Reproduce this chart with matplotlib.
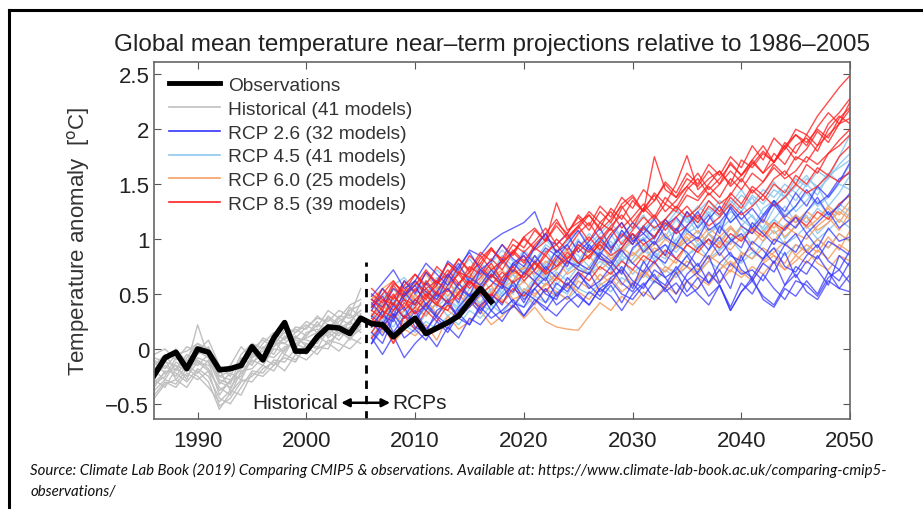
import matplotlib.pyplot as plt
import numpy as np

plt.rcParams['font.family'] = ['Liberation Sans', 'DejaVu Sans']

# observed global mean temperature anomaly, 1986-2017
obs_years = list(range(1986, 2018))
obs = [-0.24, -0.08, -0.03, -0.18, 0.0, -0.03, -0.19, -0.18, -0.15, 0.02,
       -0.10, 0.10, 0.24, -0.02, -0.02, 0.11, 0.20, 0.19, 0.14, 0.28,
       0.23, 0.22, 0.11, 0.20, 0.28, 0.14, 0.19, 0.24, 0.30, 0.43,
       0.55, 0.43]

# historical model runs, 1986-2005
hist_years = list(range(1986, 2006))
historical = [
    [-0.30, -0.22, -0.15, -0.20, -0.10, -0.18, -0.38, -0.30, -0.18, -0.12, -0.05, -0.08, 0.02, 0.05, 0.00, 0.10, 0.15, 0.08, 0.20, 0.25],
    [-0.10, -0.18, -0.05, -0.02, 0.05, -0.05, -0.25, -0.20, -0.10, 0.00, 0.08, 0.02, 0.10, 0.18, 0.12, 0.22, 0.18, 0.30, 0.28, 0.35],
    [-0.42, -0.30, -0.35, -0.22, -0.28, -0.20, -0.52, -0.45, -0.30, -0.25, -0.15, -0.20, -0.05, -0.10, 0.02, -0.05, 0.08, 0.05, 0.00, 0.10],
    [-0.05, 0.00, -0.10, 0.02, -0.02, 0.08, -0.15, -0.25, -0.05, 0.05, 0.00, 0.12, 0.20, 0.15, 0.25, 0.20, 0.35, 0.28, 0.40, 0.45],
    [-0.25, -0.15, -0.25, -0.10, -0.15, -0.05, -0.30, -0.35, -0.22, -0.10, -0.15, 0.00, -0.02, 0.10, 0.08, 0.05, 0.22, 0.20, 0.15, 0.30],
    [-0.20, -0.28, -0.12, -0.18, -0.08, -0.12, -0.42, -0.28, -0.25, -0.05, -0.10, 0.05, 0.05, 0.00, 0.15, 0.18, 0.12, 0.25, 0.32, 0.20],
    [-0.35, -0.20, -0.22, -0.30, -0.18, -0.25, -0.45, -0.50, -0.35, -0.20, -0.22, -0.10, -0.12, 0.00, -0.05, 0.12, 0.05, 0.15, 0.10, 0.18],
    [-0.15, -0.05, -0.20, -0.08, 0.05, 0.00, -0.20, -0.18, -0.15, -0.05, 0.10, 0.05, 0.15, 0.10, 0.20, 0.28, 0.25, 0.35, 0.30, 0.55],
    [-0.28, -0.35, -0.18, -0.25, -0.12, -0.20, -0.35, -0.42, -0.20, -0.18, -0.08, -0.15, 0.00, 0.08, 0.05, 0.00, 0.18, 0.12, 0.25, 0.15],
    [-0.08, -0.12, 0.00, -0.12, -0.05, 0.02, -0.22, -0.15, 0.02, -0.08, 0.05, 0.15, 0.08, 0.20, 0.18, 0.30, 0.22, 0.20, 0.35, 0.40],
    [-0.45, -0.32, -0.28, -0.35, -0.20, -0.30, -0.55, -0.40, -0.28, -0.30, -0.18, -0.12, -0.20, -0.05, -0.10, 0.00, 0.05, -0.02, 0.10, 0.05],
    [-0.18, -0.10, -0.28, -0.15, 0.22, -0.08, -0.28, -0.32, -0.08, -0.15, 0.02, -0.05, 0.12, 0.05, 0.10, 0.15, 0.30, 0.22, 0.18, 0.32],
    [-0.32, -0.25, -0.08, -0.15, -0.22, -0.10, -0.32, -0.22, -0.28, -0.08, -0.02, 0.08, -0.05, 0.12, 0.02, 0.08, 0.15, 0.28, 0.22, 0.42],
    [-0.12, -0.22, -0.18, -0.05, -0.12, -0.15, -0.18, -0.38, -0.12, 0.02, -0.08, 0.10, 0.05, 0.15, 0.22, 0.15, 0.28, 0.20, 0.38, 0.28],
    [-0.38, -0.28, -0.32, -0.18, -0.25, -0.35, -0.48, -0.38, -0.42, -0.22, -0.25, -0.15, -0.08, -0.12, 0.05, 0.02, 0.00, 0.18, 0.08, 0.22],
    [-0.22, -0.12, -0.15, -0.28, -0.02, -0.08, -0.25, -0.28, -0.18, -0.02, -0.12, 0.02, 0.18, 0.02, 0.12, 0.25, 0.10, 0.18, 0.25, 0.35],
]

# scenario runs, 2006-2050
rcp_years = list(range(2006, 2051))

rcp26 = [
    [0.35, 0.55, 0.40, 0.62, 0.50, 0.70, 0.58, 0.80, 0.72, 0.90, 0.85, 0.98, 1.05, 1.10, 1.15,
     1.25, 1.00, 0.95, 1.05, 0.88, 0.98, 1.10, 0.92, 1.02, 1.15, 1.05, 0.95, 1.12, 1.20, 1.08,
     1.00, 1.18, 1.30, 1.15, 1.25, 1.10, 1.22, 1.35, 1.20, 1.30, 1.45, 1.32, 1.40, 1.55, 1.60],
    [0.10, -0.05, 0.12, -0.08, 0.05, 0.15, 0.02, 0.20, 0.10, 0.28, 0.22, 0.35, 0.25, 0.40, 0.30,
     0.45, 0.38, 0.30, 0.42, 0.50, 0.40, 0.55, 0.48, 0.35, 0.50, 0.60, 0.45, 0.55, 0.42, 0.62,
     0.50, 0.40, 0.58, 0.35, 0.52, 0.65, 0.45, 0.38, 0.55, 0.48, 0.62, 0.50, 0.70, 0.55, 0.52],
    [0.30, 0.22, 0.40, 0.28, 0.45, 0.35, 0.50, 0.42, 0.60, 0.48, 0.55, 0.68, 0.58, 0.52, 0.70,
     0.62, 0.75, 0.65, 0.80, 0.72, 0.68, 0.85, 0.75, 0.90, 0.78, 0.70, 0.88, 0.95, 0.82, 0.75,
     0.92, 1.00, 0.85, 0.98, 1.05, 0.90, 0.82, 1.00, 0.95, 0.88, 1.05, 0.92, 1.10, 0.98, 1.02],
    [0.20, 0.35, 0.15, 0.30, 0.25, 0.40, 0.28, 0.18, 0.35, 0.45, 0.32, 0.50, 0.40, 0.62, 0.45,
     0.55, 0.42, 0.60, 0.52, 0.68, 0.58, 0.48, 0.65, 0.72, 0.55, 0.80, 0.65, 0.58, 0.75, 0.62,
     0.70, 0.85, 0.60, 0.78, 0.68, 0.72, 0.62, 0.80, 0.58, 0.75, 0.68, 0.85, 0.70, 0.62, 0.80],
    [0.45, 0.38, 0.55, 0.48, 0.62, 0.52, 0.45, 0.65, 0.78, 0.60, 0.72, 0.65, 0.82, 0.70, 0.88,
     0.78, 0.92, 0.85, 0.75, 0.98, 0.90, 1.02, 0.88, 1.08, 0.95, 1.12, 1.00, 1.18, 1.05, 1.25,
     1.10, 1.22, 1.05, 1.30, 1.18, 1.28, 1.15, 1.35, 1.25, 1.42, 1.30, 1.48, 1.38, 1.52, 1.70],
    [0.05, 0.25, 0.12, 0.20, 0.35, 0.18, 0.30, 0.45, 0.28, 0.38, 0.50, 0.35, 0.48, 0.58, 0.42,
     0.62, 0.50, 0.45, 0.65, 0.55, 0.70, 0.52, 0.60, 0.75, 0.62, 0.55, 0.72, 0.65, 0.50, 0.68,
     0.78, 0.60, 0.72, 0.55, 0.85, 0.62, 0.78, 0.70, 0.88, 0.65, 0.80, 0.72, 0.58, 0.85, 0.75],
    [0.38, 0.48, 0.30, 0.52, 0.40, 0.60, 0.48, 0.55, 0.42, 0.65, 0.58, 0.72, 0.60, 0.78, 0.68,
     0.85, 0.72, 0.90, 0.80, 0.75, 0.95, 0.82, 0.78, 0.92, 1.05, 0.88, 0.98, 0.85, 1.10, 0.95,
     1.02, 0.90, 1.12, 1.00, 0.92, 1.15, 1.05, 0.95, 1.10, 1.20, 1.05, 1.15, 1.25, 1.10, 1.18],
    [0.15, 0.05, 0.28, 0.10, 0.18, 0.08, 0.25, 0.15, 0.32, 0.22, 0.38, 0.28, 0.35, 0.45, 0.30,
     0.42, 0.55, 0.40, 0.48, 0.38, 0.52, 0.45, 0.58, 0.42, 0.60, 0.48, 0.62, 0.55, 0.70, 0.52,
     0.65, 0.48, 0.58, 0.38, 0.60, 0.50, 0.68, 0.55, 0.45, 0.62, 0.58, 0.48, 0.65, 0.72, 0.60],
    [0.42, 0.30, 0.25, 0.48, 0.58, 0.40, 0.52, 0.68, 0.55, 0.48, 0.72, 0.62, 0.55, 0.78, 0.85,
     0.70, 0.62, 0.82, 0.95, 0.78, 0.72, 0.88, 0.80, 0.68, 0.92, 1.00, 0.85, 0.78, 0.95, 0.88,
     0.75, 0.90, 1.02, 0.85, 0.80, 0.98, 0.90, 0.78, 0.95, 1.05, 0.88, 0.82, 0.98, 0.92, 0.85],
    [0.25, 0.12, 0.30, 0.38, 0.20, 0.15, 0.35, 0.42, 0.28, 0.22, 0.40, 0.48, 0.32, 0.38, 0.52,
     0.45, 0.35, 0.50, 0.60, 0.48, 0.40, 0.55, 0.62, 0.50, 0.45, 0.58, 0.68, 0.52, 0.60, 0.48,
     0.55, 0.70, 0.58, 0.35, 0.52, 0.62, 0.48, 0.40, 0.58, 0.68, 0.52, 0.45, 0.62, 0.55, 0.68],
    [0.48, 0.60, 0.72, 0.55, 0.62, 0.78, 0.68, 0.58, 0.75, 0.88, 0.72, 0.80, 0.95, 0.82, 0.75,
     0.92, 1.05, 0.88, 0.95, 1.08, 0.92, 0.85, 1.02, 1.15, 0.98, 1.05, 1.18, 1.02, 0.95, 1.12,
     1.25, 1.08, 1.15, 1.28, 1.12, 1.05, 1.20, 1.32, 1.18, 1.10, 1.25, 1.38, 1.22, 1.30, 1.42],
    [0.05, 0.20, 0.32, 0.18, 0.28, 0.42, 0.30, 0.22, 0.38, 0.50, 0.35, 0.45, 0.58, 0.42, 0.38,
     0.55, 0.65, 0.48, 0.58, 0.70, 0.55, 0.62, 0.75, 0.60, 0.52, 0.68, 0.80, 0.65, 0.72, 0.85,
     0.68, 0.60, 0.78, 0.88, 0.72, 0.65, 0.82, 0.92, 0.75, 0.70, 0.85, 0.95, 0.80, 0.72, 0.90],
]

rcp45 = [
    [0.30, 0.42, 0.35, 0.50, 0.40, 0.55, 0.45, 0.62, 0.50, 0.68, 0.58, 0.72, 0.65, 0.78, 0.70,
     0.85, 0.75, 0.90, 0.82, 0.95, 0.88, 1.00, 0.92, 1.08, 0.98, 1.12, 1.02, 1.15, 1.08, 1.22,
     1.15, 1.28, 1.20, 1.35, 1.25, 1.40, 1.32, 1.45, 1.38, 1.55, 1.48, 1.62, 1.55, 1.75, 1.95],
    [0.15, 0.28, 0.20, 0.35, 0.25, 0.38, 0.30, 0.45, 0.35, 0.50, 0.42, 0.55, 0.48, 0.60, 0.52,
     0.65, 0.58, 0.70, 0.62, 0.75, 0.68, 0.80, 0.72, 0.85, 0.78, 0.90, 0.82, 0.95, 0.88, 1.00,
     0.92, 1.05, 0.98, 1.10, 1.02, 1.12, 1.05, 1.18, 1.10, 1.22, 1.15, 1.28, 1.20, 1.32, 1.25],
    [0.45, 0.35, 0.55, 0.42, 0.60, 0.50, 0.65, 0.55, 0.72, 0.62, 0.78, 0.68, 0.85, 0.75, 0.90,
     0.80, 0.95, 0.88, 1.00, 0.92, 1.05, 0.95, 1.10, 1.02, 1.15, 1.08, 1.20, 1.12, 1.25, 1.18,
     1.30, 1.22, 1.35, 1.28, 1.40, 1.32, 1.45, 1.38, 1.50, 1.42, 1.55, 1.48, 1.60, 1.52, 1.68],
    [0.05, 0.18, 0.10, 0.22, 0.15, 0.25, 0.18, 0.30, 0.22, 0.35, 0.28, 0.40, 0.32, 0.45, 0.38,
     0.48, 0.42, 0.52, 0.45, 0.55, 0.50, 0.60, 0.52, 0.65, 0.58, 0.68, 0.60, 0.72, 0.65, 0.75,
     0.70, 0.80, 0.72, 0.85, 0.78, 0.88, 0.82, 0.92, 0.85, 0.95, 0.90, 1.00, 0.92, 1.05, 0.98],
    [0.25, 0.20, 0.38, 0.48, 0.32, 0.40, 0.58, 0.45, 0.38, 0.55, 0.68, 0.52, 0.60, 0.75, 0.82,
     0.65, 0.78, 0.88, 0.72, 0.80, 0.95, 0.85, 0.78, 0.98, 1.05, 0.90, 1.02, 1.15, 0.95, 1.08,
     1.20, 1.05, 1.12, 1.25, 1.18, 1.10, 1.28, 1.35, 1.22, 1.30, 1.42, 1.30, 1.38, 1.50, 1.45],
    [0.38, 0.50, 0.42, 0.30, 0.48, 0.62, 0.50, 0.42, 0.58, 0.70, 0.55, 0.65, 0.80, 0.68, 0.60,
     0.78, 0.90, 0.75, 0.85, 1.00, 0.82, 0.92, 1.05, 0.88, 0.98, 1.10, 0.95, 1.02, 1.18, 1.05,
     1.12, 1.25, 1.08, 1.18, 1.32, 1.20, 1.10, 1.28, 1.40, 1.25, 1.35, 1.48, 1.30, 1.42, 1.58],
    [0.20, 0.32, 0.45, 0.28, 0.38, 0.30, 0.42, 0.55, 0.40, 0.48, 0.60, 0.45, 0.55, 0.68, 0.50,
     0.62, 0.72, 0.58, 0.70, 0.80, 0.68, 0.75, 0.88, 0.72, 0.82, 0.95, 0.80, 0.88, 1.00, 0.85,
     0.92, 1.05, 0.90, 0.98, 1.10, 0.95, 1.08, 1.18, 1.00, 1.12, 1.22, 1.05, 1.15, 1.28, 1.20],
    [0.32, 0.25, 0.40, 0.55, 0.45, 0.35, 0.52, 0.62, 0.48, 0.58, 0.70, 0.62, 0.50, 0.72, 0.65,
     0.80, 0.68, 0.78, 0.92, 0.85, 0.75, 0.90, 0.98, 0.85, 1.05, 0.98, 1.12, 1.00, 1.08, 1.20,
     1.05, 1.18, 1.30, 1.15, 1.25, 1.38, 1.22, 1.32, 1.45, 1.35, 1.50, 1.40, 1.58, 1.65, 1.72],
    [0.28, 0.40, 0.30, 0.22, 0.42, 0.52, 0.38, 0.48, 0.60, 0.45, 0.55, 0.68, 0.58, 0.50, 0.70,
     0.78, 0.65, 0.72, 0.85, 0.75, 0.68, 0.88, 0.95, 0.80, 0.90, 1.02, 0.88, 0.82, 1.00, 1.10,
     0.95, 1.05, 1.15, 1.00, 1.12, 1.22, 1.08, 1.18, 1.30, 1.15, 1.25, 1.35, 1.22, 1.32, 1.40],
    [0.50, 0.40, 0.58, 0.65, 0.52, 0.60, 0.72, 0.62, 0.70, 0.82, 0.68, 0.78, 0.90, 0.80, 0.72,
     0.92, 1.00, 0.88, 0.98, 1.08, 0.95, 1.05, 1.15, 1.02, 1.10, 1.22, 1.08, 1.18, 1.28, 1.15,
     1.25, 1.35, 1.22, 1.32, 1.45, 1.30, 1.40, 1.52, 1.38, 1.48, 1.58, 1.45, 1.55, 1.68, 1.78],
    [0.12, 0.22, 0.35, 0.25, 0.18, 0.32, 0.42, 0.30, 0.38, 0.50, 0.40, 0.35, 0.52, 0.60, 0.48,
     0.55, 0.68, 0.55, 0.50, 0.65, 0.75, 0.62, 0.70, 0.82, 0.68, 0.78, 0.88, 0.75, 0.70, 0.85,
     0.95, 0.82, 0.90, 1.00, 0.88, 0.82, 0.98, 1.08, 0.95, 1.02, 1.12, 1.00, 1.08, 1.18, 1.10],
]

rcp60 = [
    [0.10, 0.25, 0.05, 0.18, 0.12, 0.22, 0.08, 0.30, 0.18, 0.25, 0.35, 0.22, 0.30, 0.40, 0.28,
     0.38, 0.25, 0.20, 0.18, 0.17, 0.30, 0.42, 0.35, 0.48, 0.40, 0.52, 0.45, 0.58, 0.50, 0.62,
     0.55, 0.68, 0.60, 0.72, 0.65, 0.75, 0.68, 0.80, 0.72, 0.85, 0.78, 0.90, 0.82, 0.95, 0.88],
    [0.35, 0.48, 0.40, 0.55, 0.42, 0.50, 0.62, 0.48, 0.58, 0.70, 0.55, 0.65, 0.72, 0.60, 0.75,
     0.68, 0.80, 0.72, 0.85, 0.78, 0.90, 0.82, 0.75, 0.92, 0.85, 0.95, 0.88, 1.00, 0.92, 1.05,
     0.98, 1.10, 1.02, 0.95, 1.12, 1.05, 1.18, 1.10, 1.22, 1.15, 1.25, 1.18, 1.30, 1.22, 1.35],
    [0.25, 0.15, 0.32, 0.22, 0.38, 0.30, 0.42, 0.35, 0.28, 0.45, 0.40, 0.52, 0.45, 0.38, 0.55,
     0.48, 0.60, 0.52, 0.45, 0.62, 0.55, 0.68, 0.60, 0.72, 0.58, 0.70, 0.62, 0.75, 0.68, 0.80,
     0.72, 0.85, 0.78, 0.70, 0.88, 0.82, 0.92, 0.85, 0.78, 0.95, 0.88, 1.00, 0.92, 1.05, 0.98],
    [0.48, 0.38, 0.55, 0.45, 0.60, 0.52, 0.45, 0.65, 0.55, 0.50, 0.62, 0.75, 0.58, 0.70, 0.65,
     0.78, 0.70, 0.62, 0.80, 0.72, 0.68, 0.85, 0.78, 0.70, 0.88, 0.80, 0.92, 0.85, 0.78, 0.95,
     0.88, 0.82, 0.98, 0.90, 1.02, 0.95, 1.08, 0.98, 1.12, 1.05, 1.00, 1.12, 1.20, 1.08, 1.25],
    [0.20, 0.30, 0.42, 0.28, 0.35, 0.45, 0.32, 0.40, 0.50, 0.38, 0.48, 0.58, 0.42, 0.52, 0.62,
     0.50, 0.58, 0.68, 0.55, 0.65, 0.75, 0.62, 0.70, 0.58, 0.72, 0.65, 0.78, 0.70, 0.82, 0.75,
     0.68, 0.80, 0.88, 0.75, 0.85, 0.92, 0.80, 0.88, 0.98, 0.85, 0.95, 0.88, 1.02, 0.90, 1.08],
    [0.40, 0.30, 0.48, 0.58, 0.45, 0.38, 0.55, 0.62, 0.48, 0.42, 0.58, 0.68, 0.55, 0.62, 0.75,
     0.60, 0.70, 0.82, 0.68, 0.75, 0.85, 0.72, 0.80, 0.90, 0.78, 0.88, 0.98, 0.85, 0.92, 1.02,
     0.90, 1.05, 0.95, 1.10, 1.00, 1.08, 0.98, 1.15, 1.02, 1.12, 1.20, 1.08, 1.15, 1.25, 1.18],
    [0.30, 0.40, 0.28, 0.35, 0.50, 0.38, 0.30, 0.45, 0.55, 0.42, 0.35, 0.52, 0.60, 0.45, 0.50,
     0.40, 0.55, 0.48, 0.60, 0.52, 0.45, 0.58, 0.65, 0.52, 0.60, 0.72, 0.62, 0.55, 0.68, 0.75,
     0.65, 0.58, 0.72, 0.80, 0.70, 0.62, 0.78, 0.85, 0.72, 0.80, 0.90, 0.78, 0.72, 0.85, 0.80],
    [0.45, 0.55, 0.62, 0.50, 0.58, 0.68, 0.55, 0.62, 0.75, 0.65, 0.58, 0.72, 0.80, 0.68, 0.75,
     0.85, 0.72, 0.80, 0.90, 0.78, 0.85, 0.95, 0.82, 0.90, 1.00, 0.88, 0.95, 1.05, 0.92, 0.98,
     1.08, 0.95, 1.02, 1.12, 1.00, 1.08, 1.18, 1.05, 1.12, 1.22, 1.10, 1.18, 1.28, 1.15, 1.30],
]

rcp85 = [
    [0.40, 0.55, 0.45, 0.62, 0.52, 0.70, 0.60, 0.78, 0.68, 0.85, 0.75, 0.90, 0.82, 1.00, 0.92,
     1.08, 0.98, 1.15, 1.05, 1.22, 1.12, 1.30, 1.20, 1.38, 1.28, 1.45, 1.35, 1.52, 1.42, 1.60,
     1.50, 1.68, 1.58, 1.75, 1.65, 1.85, 1.72, 1.92, 1.82, 2.00, 1.95, 2.12, 2.25, 2.38, 2.49],
    [0.30, 0.45, 0.35, 0.50, 0.62, 0.48, 0.58, 0.72, 0.60, 0.70, 0.85, 0.72, 0.80, 0.95, 0.88,
     0.98, 1.10, 0.95, 1.05, 1.20, 1.08, 1.25, 1.15, 1.32, 1.40, 1.25, 1.75, 1.45, 1.38, 1.55,
     1.48, 1.62, 1.50, 1.70, 1.58, 1.68, 1.80, 1.70, 1.88, 1.78, 1.95, 1.85, 2.05, 2.15, 2.28],
    [0.50, 0.42, 0.60, 0.52, 0.68, 0.58, 0.75, 0.65, 0.82, 0.72, 0.88, 0.80, 0.95, 0.85, 1.02,
     1.10, 0.98, 1.33, 1.08, 1.15, 1.22, 1.10, 1.28, 1.18, 1.35, 1.25, 1.42, 1.32, 1.50, 1.76,
     1.45, 1.55, 1.62, 1.50, 1.72, 1.65, 1.78, 1.70, 1.85, 1.95, 1.88, 2.00, 1.92, 2.10, 2.20],
    [0.20, 0.35, 0.28, 0.42, 0.32, 0.48, 0.40, 0.55, 0.45, 0.62, 0.52, 0.68, 0.58, 0.72, 0.65,
     0.80, 0.70, 0.85, 0.78, 0.92, 0.82, 0.98, 0.90, 1.05, 0.95, 1.10, 1.02, 1.18, 1.08, 1.25,
     1.15, 1.30, 1.22, 1.38, 1.28, 1.45, 1.35, 1.50, 1.42, 1.58, 1.50, 1.65, 1.58, 1.75, 1.85],
    [0.10, 0.22, 0.05, 0.30, 0.18, 0.35, 0.25, 0.40, 0.30, 0.45, 0.38, 0.50, 0.42, 0.55, 0.48,
     0.60, 0.52, 0.65, 0.58, 0.70, 0.62, 0.75, 0.68, 0.80, 0.72, 0.85, 0.78, 0.90, 0.82, 0.95,
     0.88, 1.00, 0.92, 1.05, 0.98, 1.10, 1.02, 1.15, 1.08, 1.20, 1.12, 1.25, 1.18, 1.32, 1.40],
    [0.35, 0.28, 0.48, 0.38, 0.55, 0.45, 0.62, 0.52, 0.70, 0.58, 0.75, 0.65, 0.78, 0.90, 0.80,
     0.92, 0.85, 1.00, 0.90, 1.05, 1.15, 1.00, 1.12, 1.22, 1.10, 1.28, 1.18, 1.32, 1.25, 1.40,
     1.35, 1.48, 1.38, 1.55, 1.45, 1.60, 1.52, 1.68, 1.58, 1.75, 1.70, 1.85, 1.95, 2.05, 2.10],
    [0.25, 0.38, 0.50, 0.35, 0.45, 0.55, 0.42, 0.58, 0.68, 0.55, 0.65, 0.78, 0.62, 0.75, 0.85,
     0.72, 0.88, 0.95, 0.82, 0.92, 1.02, 0.90, 1.05, 1.15, 1.00, 1.12, 1.22, 1.08, 1.20, 1.30,
     1.18, 1.35, 1.25, 1.42, 1.32, 1.48, 1.40, 1.55, 1.62, 1.50, 1.68, 1.60, 1.78, 1.85, 1.95],
    [0.45, 0.35, 0.58, 0.45, 0.40, 0.62, 0.50, 0.68, 0.58, 0.75, 0.68, 0.82, 0.72, 0.88, 0.78,
     0.95, 1.05, 0.88, 1.00, 1.12, 0.98, 1.15, 1.25, 1.10, 1.20, 1.32, 1.20, 1.38, 1.28, 1.45,
     1.55, 1.40, 1.50, 1.62, 1.52, 1.70, 1.60, 1.78, 1.68, 1.85, 1.92, 1.80, 2.00, 2.12, 2.05],
    [0.38, 0.50, 0.62, 0.48, 0.58, 0.72, 0.60, 0.68, 0.82, 0.70, 0.78, 0.92, 0.80, 0.88, 1.02,
     0.90, 0.98, 1.12, 1.00, 1.10, 1.22, 1.08, 1.18, 1.30, 1.15, 1.28, 1.40, 1.25, 1.35, 1.48,
     1.38, 1.50, 1.62, 1.48, 1.58, 1.72, 1.60, 1.70, 1.85, 1.72, 1.82, 1.98, 1.88, 2.05, 2.18],
    [0.28, 0.18, 0.35, 0.45, 0.32, 0.40, 0.52, 0.42, 0.50, 0.62, 0.50, 0.58, 0.70, 0.60, 0.68,
     0.78, 0.68, 0.75, 0.88, 0.78, 0.85, 0.95, 0.85, 0.92, 1.05, 0.95, 1.02, 1.15, 1.05, 1.12,
     1.22, 1.12, 1.20, 1.32, 1.22, 1.30, 1.40, 1.30, 1.38, 1.50, 1.42, 1.48, 1.58, 1.52, 1.62],
    [0.55, 0.45, 0.40, 0.58, 0.68, 0.55, 0.62, 0.78, 0.70, 0.65, 0.82, 0.92, 0.78, 0.88, 1.00,
     0.92, 1.05, 1.18, 1.02, 1.12, 1.25, 1.15, 1.08, 1.28, 1.38, 1.25, 1.35, 1.50, 1.38, 1.48,
     1.60, 1.45, 1.55, 1.68, 1.58, 1.72, 1.85, 1.70, 1.82, 1.95, 1.85, 2.02, 2.15, 2.05, 2.25],
    [0.15, 0.30, 0.42, 0.28, 0.38, 0.50, 0.40, 0.35, 0.52, 0.62, 0.55, 0.48, 0.65, 0.75, 0.62,
     0.72, 0.85, 0.75, 0.82, 0.95, 0.88, 0.98, 1.10, 0.95, 1.08, 1.20, 1.10, 1.18, 1.30, 1.20,
     1.28, 1.42, 1.32, 1.40, 1.55, 1.42, 1.52, 1.65, 1.55, 1.62, 1.75, 1.68, 1.78, 1.90, 2.00],
]

fig = plt.figure(figsize=(9.23, 5.10), dpi=100)
ax = fig.add_axes([0.167, 0.176, 0.754, 0.70])

for run in historical:
    ax.plot(hist_years, run, color='#c0c0c0', lw=1.0)
for run in rcp45:
    ax.plot(rcp_years, run, color='#8ec8f0', lw=1.0, alpha=0.9)
for run in rcp60:
    ax.plot(rcp_years, run, color='#f6a066', lw=1.0, alpha=0.9)
# interleave the two dominant scenarios so neither hides the other
for r85, r26 in zip(rcp85, rcp26):
    ax.plot(rcp_years, r85, color='#ff2020', lw=1.0, alpha=0.8)
    ax.plot(rcp_years, r26, color='#3535ff', lw=1.0, alpha=0.75)

ax.plot(obs_years, obs, color='black', lw=4)

ax.axvline(2005.5, ymin=0, ymax=0.44, color='black', ls=(0, (3, 2.5)), lw=2)
ax.annotate('', xy=(2003.2, -0.49), xytext=(2007.7, -0.49),
            arrowprops=dict(arrowstyle='<|-|>', color='black', lw=1.8,
                            mutation_scale=12, shrinkA=0, shrinkB=0))
ax.text(2002.9, -0.49, 'Historical', ha='right', va='center', fontsize=15, color='#222222')
ax.text(2007.9, -0.49, 'RCPs', ha='left', va='center', fontsize=15, color='#222222')

# legend
handles = [
    plt.Line2D([], [], color='black', lw=3.5),
    plt.Line2D([], [], color='#c0c0c0', lw=1.2),
    plt.Line2D([], [], color='#3535ff', lw=1.2),
    plt.Line2D([], [], color='#8ec8f0', lw=1.2),
    plt.Line2D([], [], color='#f6a066', lw=1.2),
    plt.Line2D([], [], color='#ff2020', lw=1.2),
]
labels = ['Observations', 'Historical (41 models)', 'RCP 2.6 (32 models)',
          'RCP 4.5 (41 models)', 'RCP 6.0 (25 models)', 'RCP 8.5 (39 models)']
leg = ax.legend(handles, labels, loc='upper left', frameon=False, fontsize=13.8,
                handlelength=2.7, handletextpad=0.4, labelspacing=0.33,
                borderaxespad=0.35, bbox_to_anchor=(0.0, 1.0))
for t in leg.get_texts():
    t.set_color('#333333')

ax.set_xlim(1986, 2050)
ax.set_ylim(-0.64, 2.61)
ax.set_xticks(range(1990, 2051, 10))
ax.set_yticks([-0.5, 0, 0.5, 1, 1.5, 2, 2.5])
ax.set_yticklabels(['\u22120.5', '0', '0.5', '1', '1.5', '2', '2.5'])
ax.tick_params(direction='in', top=True, right=True, labelsize=16,
               color='#555555', labelcolor='#222222', length=5)
ax.tick_params(axis='x', pad=8)
for s in ax.spines.values():
    s.set_color('#666666')
    s.set_linewidth(1.2)

ax.set_ylabel('Temperature anomaly  [$^{\\mathrm{o}}$C]', fontsize=16, color='#333333', labelpad=10)
ax.set_title('Global mean temperature near\u2013term projections relative to 1986\u20132005',
             fontsize=17.5, color='#222222', pad=9, x=0.485)

fig.text(0.033, 0.078, 'Source: Climate Lab Book (2019) Comparing CMIP5 & observations. Available at: '
         'https://www.climate-lab-book.ac.uk/comparing-cmip5-',
         fontsize=10.8, style='italic', family='Lato', color='#111111', va='center')
fig.text(0.033, 0.035, 'observations/', fontsize=10.8, style='italic', family='Lato',
         color='#111111', va='center')

# outer frame (top and left edges)
fig.add_artist(plt.Line2D([0.0097, 1.0], [0.978, 0.978], color='black', lw=2.2))
fig.add_artist(plt.Line2D([0.0097, 0.0097], [0.0, 0.978], color='black', lw=2.2))

fig.savefig('out.png', dpi=100)
